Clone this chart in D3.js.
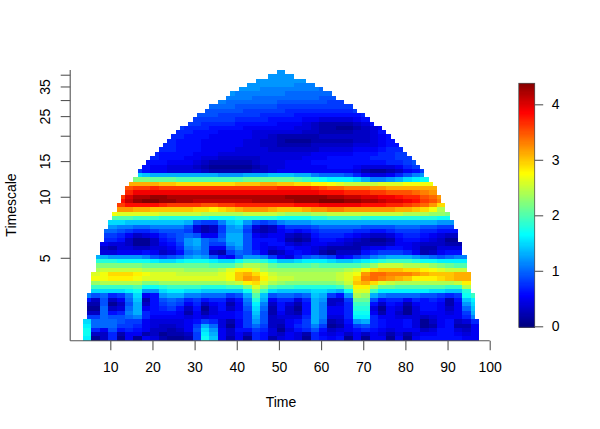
<!DOCTYPE html>
<html><head><meta charset="utf-8">
<style>html,body{margin:0;background:#fff}svg{display:block}text{font-family:"Liberation Sans",Arial,sans-serif;fill:#000}</style>
<script src="https://cdn.jsdelivr.net/npm/d3@7"></script></head><body><svg id="c" width="600" height="429"></svg>
<script>
// highest row (0 = top) reached by each time column, t = 4..50 (mirrored for 51..97)
const coiTop=[58,52,47,43,40,37,35,33,31,29,27,26,25,23,22,21,20,19,18,17,16,15,14,13,13,12,11,10,10,9,8,8,7,7,6,5,5,4,4,3,3,2,2,2,1,1,0];
const xTicks=[10,20,30,40,50,60,70,80,90,100];
const yTicks=[5,10,15,20,25,30,35,40];
const yLabels=[5,10,15,25,35];
const legendTicks=[0,1,2,3,4];
const colorStops=["#00007F","#0000FF","#007FFF","#00FFFF","#7FFF7F","#FFFF00","#FF7F00","#FF0000","#7F0000"];
// wavelet power in tenths, one list per period row (top to bottom), blocks of two time units
const powerTenths=[
[12],
[12,12,12],
[12,12,12,12,12,12,12],
[12,12,12,12,12,12,11,11,11],
[12,12,12,11,11,11,11,11,11,11,10],
[12,11,11,11,11,11,11,10,10,10,10,10,10],
[11,11,11,10,10,10,10,10,10,10,10,9,9],
[11,10,10,10,10,10,10,9,9,9,9,9,9,8,8],
[10,10,10,9,9,9,9,9,8,8,8,8,8,8,8,8,8],
[9,9,9,9,9,8,8,8,8,8,7,7,7,7,7,7,7,7,8],
[9,9,9,8,8,8,8,8,7,7,7,7,6,6,6,6,6,6,6,6,7],
[8,8,8,8,8,7,7,7,7,6,6,6,6,5,5,4,4,4,4,5,6],
[8,8,7,7,7,7,6,6,6,6,6,5,5,5,4,3,2,2,2,2,3,4,6],
[8,7,7,7,6,6,6,6,5,5,5,5,5,5,4,4,3,2,2,1,1,2,3,4,5],
[7,7,6,6,6,5,5,5,5,4,4,4,4,4,4,3,3,2,2,2,2,3,3,4,6],
[7,7,6,6,6,5,5,5,5,5,4,4,3,2,2,2,2,2,3,3,3,3,3,3,4,5,6],
[7,6,6,6,5,5,5,5,5,4,4,3,3,2,1,1,1,2,2,2,2,2,3,3,4,5,6],
[7,7,6,6,6,5,5,5,5,5,4,4,3,3,2,2,2,2,3,3,3,3,3,4,4,4,5,6,6],
[7,7,6,6,6,5,5,5,5,4,4,4,4,3,3,3,3,3,3,4,4,4,4,5,5,5,6,7,7],
[7,6,6,6,6,5,5,5,4,4,4,4,4,4,4,4,4,4,4,5,5,5,5,5,6,6,6,7,7,8,8],
[7,6,6,6,5,5,4,4,3,3,3,3,3,4,4,4,4,4,5,5,5,6,6,6,6,6,7,7,7,8,8,9],
[6,6,6,5,5,5,4,3,2,2,2,2,2,3,4,4,4,5,5,5,6,6,6,6,6,6,6,6,6,7,7,8,9],
[6,5,5,4,4,4,3,2,1,1,1,1,1,2,3,4,4,5,5,5,5,5,6,6,6,5,4,4,4,4,5,7,8],
[8,6,5,5,4,4,4,4,3,2,2,2,2,2,3,3,4,5,5,5,5,5,5,5,5,5,4,2,1,1,2,3,5,6,8],
[15,14,13,13,13,13,13,13,13,13,12,12,12,13,13,13,14,14,14,13,13,11,10,10,10,9,7,5,4,4,5,7,9,11,12],
[22,22,21,21,21,20,20,20,20,20,20,20,20,21,21,21,21,21,21,20,19,18,17,16,16,16,15,13,11,11,12,13,15,16,17],
[31,31,31,31,30,30,29,29,29,29,29,29,29,30,30,30,31,31,30,30,29,29,28,28,27,26,25,25,25,25,26,26,26,27,27,27,27],
[35,36,36,37,36,36,36,36,36,36,36,36,36,36,36,36,36,36,37,37,37,37,36,35,34,34,33,33,33,32,32,31,31,31,31,31,31],
[37,39,39,39,39,39,39,39,39,39,39,39,39,39,39,39,39,39,39,39,39,39,39,38,38,38,37,37,37,36,36,35,35,35,34,33,32],
[36,40,42,42,43,43,42,42,42,42,42,42,42,42,42,42,42,42,42,42,43,43,43,43,43,42,42,41,41,40,40,39,39,38,37,37,35,34,32],
[38,41,43,44,44,43,43,42,42,41,41,41,41,41,41,41,42,42,42,42,42,43,43,43,44,44,44,43,43,42,42,41,40,40,39,38,36,35,33],
[36,38,38,38,38,37,36,36,36,36,35,35,36,36,37,37,37,37,37,37,37,38,38,38,39,39,39,39,39,38,38,38,37,37,36,35,34,32,29],
[32,32,31,31,30,30,30,30,30,29,29,28,29,30,31,32,32,32,31,30,30,30,31,32,32,33,33,32,32,32,32,32,32,31,31,30,29,27,24],
[27,26,26,26,26,26,25,25,25,25,25,24,24,24,24,24,25,25,25,25,24,23,23,23,24,24,25,25,25,25,25,25,25,25,25,24,24,24,23,23,22],
[20,20,20,19,19,19,18,18,18,18,18,18,17,17,17,18,18,18,18,18,17,17,17,17,18,18,19,19,19,19,18,18,18,18,18,18,18,18,18,17,17],
[15,15,14,14,14,14,14,14,14,13,9,8,8,11,14,15,12,9,8,9,11,12,12,12,13,13,13,13,13,13,13,13,13,13,13,13,13,13,13,12,12],
[12,11,11,10,10,11,11,11,11,9,4,2,3,8,12,13,9,4,2,3,6,8,8,8,9,10,10,10,10,10,9,9,9,9,10,10,10,9,9,8,8],
[10,10,9,8,7,7,8,9,9,9,8,4,2,3,8,12,12,8,3,2,3,5,6,5,6,7,8,8,8,8,7,7,6,6,7,8,8,8,7,7,6,6,6],
[8,8,7,5,3,4,5,7,8,9,10,9,5,5,9,13,13,9,5,4,5,5,3,2,3,6,7,7,7,6,5,4,3,3,4,6,7,7,6,5,4,3,3],
[7,7,6,3,1,1,3,6,7,9,12,13,10,9,10,13,13,9,6,6,6,5,2,1,2,5,6,6,5,4,3,2,1,1,2,5,6,6,5,4,3,1,1],
[5,4,4,3,1,1,3,5,6,8,12,13,10,8,8,12,13,9,6,5,6,6,4,3,4,5,5,4,4,3,2,2,2,2,3,5,5,4,3,3,3,2,2],
[3,2,4,4,3,3,4,4,5,7,11,12,10,5,5,10,12,9,6,5,4,5,6,5,5,4,3,2,2,2,2,4,5,5,6,6,5,4,2,2,4,4,4],
[4,4,5,5,5,6,5,3,4,6,10,11,10,3,2,8,10,9,7,5,2,3,5,6,5,4,2,1,3,3,3,6,7,8,8,8,7,5,2,3,5,6,6],
[13,13,12,12,12,12,11,9,8,9,10,12,13,12,9,6,5,9,12,12,11,8,5,4,7,9,10,9,8,5,6,8,9,11,12,13,13,13,12,11,10,9,10,11,11],
[18,18,18,17,17,17,17,16,15,15,16,17,17,17,16,15,15,17,19,19,18,16,14,14,15,16,16,16,15,14,14,15,16,17,18,19,19,19,18,17,17,16,16,16,16],
[22,22,22,22,22,22,21,21,21,21,21,21,21,21,20,20,20,22,24,24,23,21,20,20,20,20,21,20,20,20,20,20,21,23,25,25,25,24,24,24,23,22,21,20,20],
[24,25,25,25,25,25,24,24,24,24,24,23,23,23,23,24,26,28,28,26,24,23,23,23,23,23,23,23,23,23,24,25,27,29,30,30,30,29,29,28,27,26,25,25,25],
[26,27,29,29,29,28,27,26,26,26,25,25,25,25,25,26,27,30,31,29,27,25,24,24,24,24,24,24,24,25,26,27,32,34,34,33,33,33,32,31,30,30,30,31,31],
[27,27,28,28,28,27,26,26,26,26,26,26,26,26,26,26,27,30,32,31,28,26,25,25,24,24,24,24,24,25,26,29,33,34,33,32,31,30,28,28,28,29,30,31,31],
[23,24,24,24,24,24,22,22,23,23,23,23,23,23,23,23,24,25,28,29,26,24,23,22,22,22,22,22,22,23,25,30,31,29,26,25,24,24,24,24,24,24,24,25,28],
[19,19,19,19,19,20,17,17,18,19,19,19,19,18,18,18,19,19,22,26,23,20,19,19,18,18,18,18,18,19,22,28,28,24,21,21,20,20,20,20,20,20,19,19,24],
[15,15,15,15,16,17,12,12,15,16,16,15,15,14,14,14,14,14,17,23,19,15,14,14,14,14,15,15,14,13,17,26,26,19,16,16,16,16,16,16,15,15,14,14,18],
[11,9,10,7,8,11,15,5,6,12,13,13,11,11,10,10,10,8,9,13,20,14,9,10,10,9,10,14,13,8,6,12,24,23,13,11,10,10,10,10,9,9,8,7,8,17,19],
[6,3,9,3,5,10,14,2,6,9,10,9,7,8,6,7,7,4,6,11,18,13,5,7,7,4,7,13,12,3,3,8,21,21,9,6,7,7,5,7,6,7,6,2,6,14,16],
[2,2,9,1,3,9,13,3,6,8,9,8,5,7,3,5,6,2,5,10,16,11,3,6,4,2,6,13,11,3,4,7,19,19,6,3,6,5,2,5,6,6,5,2,5,12,15],
[1,1,10,3,4,10,13,5,6,7,8,6,3,6,1,4,6,3,5,9,15,10,2,6,3,1,6,13,11,5,5,7,18,18,4,1,5,4,1,4,6,6,5,3,5,10,14],
[3,3,10,6,7,11,13,7,6,6,6,5,2,5,2,4,5,5,6,8,14,9,2,5,3,2,6,13,11,5,5,7,17,17,5,2,5,3,1,4,5,5,5,4,5,8,13],
[8,8,10,9,9,10,11,7,5,5,5,5,4,5,4,5,5,5,6,8,13,9,3,4,4,4,7,13,11,4,4,7,16,16,7,5,5,4,4,4,3,4,5,5,5,7,11],
[15,10,10,10,9,8,8,5,4,4,4,4,5,6,8,7,4,2,5,8,12,9,3,3,5,6,8,13,10,2,3,6,12,13,7,6,5,5,6,4,1,3,5,6,3,4,7],
[16,10,10,10,8,8,7,5,4,3,3,4,5,8,13,10,4,1,5,8,10,8,3,2,5,7,8,11,8,1,2,5,8,9,7,6,5,5,6,4,1,2,5,6,2,2,5],
[17,7,5,9,6,7,6,5,3,3,2,3,5,9,15,12,5,3,6,6,8,7,4,1,4,6,7,9,6,3,4,5,6,7,6,5,4,5,5,5,3,4,6,6,4,3,5],
[17,3,3,7,2,5,5,2,3,1,2,2,3,8,16,13,5,3,5,3,7,6,4,3,5,4,2,7,5,4,5,3,5,3,5,4,2,4,2,4,5,5,6,6,5,4,5],
[16,1,3,7,1,5,1,5,4,2,1,1,2,8,17,14,5,2,5,1,7,6,2,4,5,4,1,7,6,5,6,1,5,1,5,5,1,5,1,5,6,6,6,6,6,5,5]
];

const svg=d3.select("#c");
const x=d3.scaleLinear().domain([10,100]).range([110.3,489.7]);
const rows=d3.range(powerTenths.length);
const yRow=d3.scaleBand().domain(rows).range([70,340.7]);
const y=d3.scaleLog().domain([1.95,42.2]).range([340.7,70]);
const levels=colorStops.map((c,i)=>i*4.4/(colorStops.length-1));
const color=d3.scaleLinear().domain(levels).range(colorStops).clamp(true);

const topOf=t=>coiTop[(t<=50?t:101-t)-4];
const cells=[];
for(let t=4;t<=97;t++){
  rows.forEach(n=>{
    if(n<topOf(t))return;
    let first=4;while(topOf(first)>n)first++;
    const start=Math.floor((first-4)/2);
    const row=powerTenths[n];
    const b=Math.floor((t-4)/2);
    const v=row[b-start]!==undefined?row[b-start]:row[row.length-1];
    cells.push({t,n,v:v/10});
  });
}
svg.append("g").attr("shape-rendering","crispEdges").selectAll("rect").data(cells).join("rect")
  .attr("x",d=>x(d.t-.5)).attr("width",d=>x(d.t+.5)-x(d.t-.5))
  .attr("y",d=>yRow(d.n)).attr("height",yRow.bandwidth())
  .attr("fill",d=>color(d.v));

const axisStroke="#555";
function style(g){g.selectAll("path,line").attr("stroke",axisStroke).attr("stroke-width",1.1).attr("fill","none");g.selectAll("text").attr("font-size",14).attr("fill","#000");}

// x axis
const gx=svg.append("g").attr("transform","translate(0,340.7)")
  .call(d3.axisBottom(x).tickValues(xTicks).tickSize(9.5).tickPadding(12));
gx.select("path").attr("d","M70.2,0H489.7");
style(gx);
// y axis
const gy=svg.append("g").attr("transform","translate(70.2,0)")
  .call(d3.axisLeft(y).tickValues(yTicks).tickSize(9.5).tickFormat(d=>yLabels.includes(d)?d:""));
gy.select("path").attr("d","M0,70V340.7");
style(gy);
gy.selectAll("text").attr("x",null).attr("y",null).attr("dy",null).attr("transform","translate(-20.2,0) rotate(-90)").attr("text-anchor","middle");

svg.append("text").attr("x",281).attr("y",407).attr("text-anchor","middle").attr("font-size",14).text("Time");
svg.append("text").attr("transform","translate(16,205) rotate(-90)").attr("text-anchor","middle").attr("font-size",14).text("Timescale");

// colour bar
const yBar=d3.scaleLinear().domain([0,4]).range([326.3,104.3]);
const barLevels=d3.range(-0.02,4.38,0.02);
svg.append("g").attr("shape-rendering","crispEdges").selectAll("rect").data(barLevels).join("rect")
  .attr("x",518.7).attr("width",16).attr("y",d=>yBar(d+0.02)).attr("height",d=>yBar(d)-yBar(d+0.02)+.4)
  .attr("fill",d=>color(d));
svg.append("rect").attr("x",518.7).attr("y",83.3).attr("width",16).attr("height",244).attr("fill","none").attr("stroke",axisStroke).attr("stroke-width",.8);
const gb=svg.append("g").attr("transform","translate(534.7,0)")
  .call(d3.axisRight(yBar).tickValues(legendTicks).tickSize(8.5).tickPadding(8.5).tickFormat(d3.format("d")));
gb.select("path").remove();
style(gb);
</script></body></html>
